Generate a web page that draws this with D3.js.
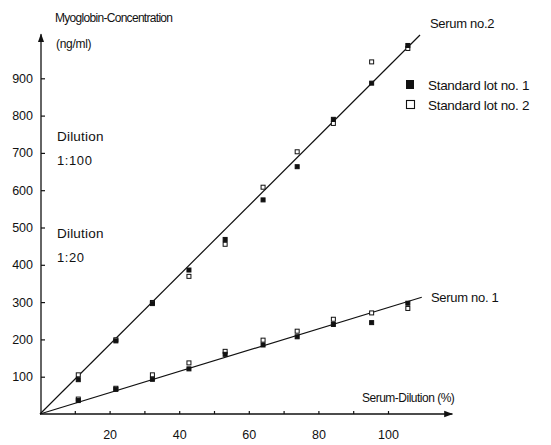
<!DOCTYPE html>
<html>
<head>
<meta charset="utf-8">
<script src="https://cdn.jsdelivr.net/npm/d3@7"></script>
<style>
  body { margin: 0; background: #fff; }
  svg { font-family: "Liberation Sans", Arial, sans-serif; }
  .axis text { font-size: 12.5px; fill: #111; }
  .axis line { stroke: #111; stroke-width: 1.2px; }
  .lbl { fill: #111; }
</style>
</head>
<body>
<svg id="chart" width="551" height="445"></svg>
<script>
// serum dilution (%) where points sit
const dilution = [11, 21.8, 32.3, 42.8, 53.2, 64.1, 73.9, 84.3, 95.3, 105.7];

// serum no.2 (dilution 1:100)
const serum2Lot1 = [92, 196, 296, 386, 468, 574, 663, 790, 887, 988];
const serum2Lot2 = [105, 199, 299, 369, 455, 608, 703, 779, 944, 980];

// serum no.1 (dilution 1:20)
const serum1Lot1 = [36, 66, 93, 121, 160, 185, 207, 240, 245, 297];
const serum1Lot2 = [40, 69, 105, 137, 168, 198, 222, 254, 271, 283];

// regression lines, start and end
const serum2Fit = [[0, 0], [109.2, 1016]];
const serum1Fit = [[0, 0], [109.7, 313]];

const yTicks = [100, 200, 300, 400, 500, 600, 700, 800, 900];
const xTicks = [10, 20, 30, 40, 50, 60, 70, 80, 90, 100];
const xLabelTicks = [20, 40, 60, 80, 100];

const svg = d3.select("#chart");

const x = d3.scaleLinear().domain([0, 100]).range([40, 388]);
const y = d3.scaleLinear().domain([0, 900]).range([414, 78.3]);

// arrow head
svg.append("defs").append("marker")
  .attr("id", "arrow")
  .attr("viewBox", "0 0 10 10")
  .attr("refX", 9).attr("refY", 5)
  .attr("markerWidth", 7).attr("markerHeight", 7)
  .attr("orient", "auto")
  .append("path")
  .attr("d", "M0,1.5 L10,5 L0,8.5 Z")
  .attr("fill", "#111");

// axes
const yAxis = d3.axisLeft(y).tickValues(yTicks)
  .tickSizeInner(-4).tickSizeOuter(0).tickPadding(8);
const gy = svg.append("g").attr("class", "axis")
  .attr("transform", `translate(${x(0) + 1},0)`).call(yAxis);
gy.select(".domain").remove();

const xAxis = d3.axisBottom(x).tickValues(xTicks)
  .tickSizeInner(-3).tickSizeOuter(0).tickPadding(16)
  .tickFormat(d => xLabelTicks.includes(d) ? d : "");
const gx = svg.append("g").attr("class", "axis")
  .attr("transform", `translate(0,${y(0)})`).call(xAxis);
gx.select(".domain").remove();

svg.append("line")
  .attr("x1", x(0) + 1).attr("y1", y(0))
  .attr("x2", x(0) + 1).attr("y2", y(1018))
  .attr("stroke", "#111").attr("stroke-width", 1.3)
  .attr("marker-end", "url(#arrow)");
svg.append("line")
  .attr("x1", x(0)).attr("y1", y(0))
  .attr("x2", x(118.5)).attr("y2", y(0))
  .attr("stroke", "#111").attr("stroke-width", 1.3)
  .attr("marker-end", "url(#arrow)");

// fitted lines
const line = d3.line().x(d => x(d[0])).y(d => y(d[1]));
[serum2Fit, serum1Fit].forEach(f => {
  svg.append("path")
    .attr("d", line(f))
    .attr("fill", "none")
    .attr("stroke", "#111")
    .attr("stroke-width", 1.2);
});

// points
const sz = 4;
function drawPts(vals, filled) {
  svg.append("g").selectAll("rect")
    .data(vals)
    .join("rect")
    .attr("x", (d, i) => x(dilution[i]) - sz / 2)
    .attr("y", d => y(d) - sz / 2)
    .attr("width", sz).attr("height", sz)
    .attr("fill", filled ? "#111" : "#fff")
    .attr("stroke", "#111")
    .attr("stroke-width", 1);
}
drawPts(serum2Lot2, false);
drawPts(serum2Lot1, true);
drawPts(serum1Lot2, false);
drawPts(serum1Lot1, true);

// texts: label, x, y, font size, letter spacing
const texts = [
  ["Myoglobin-Concentration", 55, 22, 12, -0.7],
  ["(ng/ml)", 56, 48, 12, -0.3],
  ["Dilution", 57, 141, 13.5, 0.2],
  ["1:100", 57, 165, 13, 0.6],
  ["Dilution", 57, 238, 13.5, 0.2],
  ["1:20", 57, 262, 13, 0.6],
  ["Serum no.2", 430, 28, 13, -0.3],
  ["Serum no. 1", 431, 302, 13, -0.3],
  ["Serum-Dilution (%)", 362, 402, 12, -0.5],
  ["Standard lot no. 1", 428, 90, 13.5, -0.3],
  ["Standard lot no. 2", 428, 110, 13.5, -0.3]
];
svg.selectAll(".lbl")
  .data(texts)
  .join("text")
  .attr("class", "lbl")
  .attr("x", d => d[1]).attr("y", d => d[2])
  .style("font-size", d => d[3] + "px")
  .style("letter-spacing", d => d[4] + "px")
  .text(d => d[0]);

// legend swatches
svg.append("rect").attr("x", 406).attr("y", 80).attr("width", 8).attr("height", 9)
  .attr("fill", "#111");
svg.append("rect").attr("x", 406.5).attr("y", 100.5).attr("width", 8).attr("height", 8)
  .attr("fill", "#fff").attr("stroke", "#111").attr("stroke-width", 1.1);
</script>
</body>
</html>
